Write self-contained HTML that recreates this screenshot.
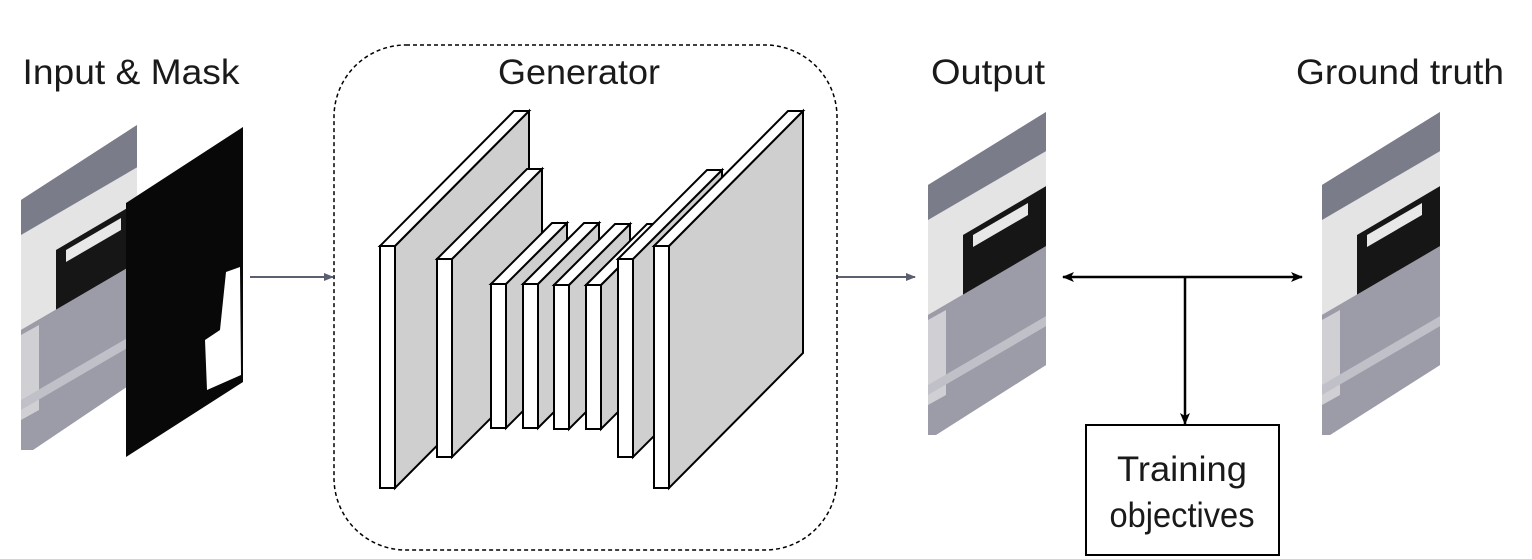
<!DOCTYPE html>
<html><head><meta charset="utf-8"><style>
html,body{margin:0;padding:0;background:#fff;}
svg{display:block;}
text{font-family:"Liberation Sans","DejaVu Sans",sans-serif;font-size:35px;fill:#1a1a1a;}
</style></head><body>
<svg width="1532" height="559" viewBox="0 0 1532 559" xmlns="http://www.w3.org/2000/svg">
<defs>
<marker id="ag" markerWidth="10" markerHeight="10" refX="9" refY="5" orient="auto" markerUnits="userSpaceOnUse"><path d="M0,1 L10,5 L0,9 Z" fill="#5a6070"/></marker>
<marker id="ab" markerWidth="12" markerHeight="12" refX="11" refY="6" orient="auto-start-reverse" markerUnits="userSpaceOnUse"><path d="M0,1 L12,6 L0,11 L3,6 Z" fill="#000"/></marker>
<g id="photo">
  <rect x="0" y="0" width="120" height="340" fill="#8e8e9c"/>
  <rect x="0" y="0" width="120" height="150" fill="#7a7c8a"/>
  <polygon points="0,125 120,55 120,150 0,220" fill="#e4e4e4"/>
  <polygon points="35,140 120,90 120,150 35,200" fill="#161616"/>
  <polygon points="45,140 100,108 100,120 45,152" fill="#e8e8e8"/>
  <polygon points="0,220 120,150 120,340 0,340" fill="#9c9ca8"/>
  <polygon points="0,225 18,215 18,300 0,310" fill="#cfcfd4"/>
  <polygon points="0,290 120,220 120,230 0,300" fill="#c0c0c8"/>
</g>
<clipPath id="c1"><polygon points="21,200 137,125 137,380 21,458"/></clipPath>
<clipPath id="c2"><polygon points="928,185 1046,112 1046,365 928,440"/></clipPath>
<clipPath id="c3"><polygon points="1322,185 1440,112 1440,365 1322,440"/></clipPath>
</defs>

<g clip-path="url(#c1)"><use href="#photo" x="21" y="110"/></g>
<polygon points="126,203 243,127 243,382 126,457" fill="#080808"/>
<path d="M226,272 L240,267 L241,375 L207,390 L205,340 L220,330 Z" fill="#fff"/>

<g clip-path="url(#c2)"><use href="#photo" x="928" y="95"/></g>
<g clip-path="url(#c3)"><use href="#photo" x="1322" y="95"/></g>

<rect x="334" y="45" width="503" height="505" rx="72" ry="72" fill="none" stroke="#000" stroke-width="1.5" stroke-dasharray="4,3"/>

<g stroke="#000" stroke-width="2" stroke-linejoin="miter">
  <polygon points="395,246 529,111 529,353 395,488" fill="#cfcfcf"/>
  <polygon points="380,246 514,111 529,111 395,246" fill="#fff"/>
  <rect x="380" y="246" width="15" height="242" fill="#fff"/>

  <polygon points="452,259 542,169 542,367 452,457" fill="#cfcfcf"/>
  <polygon points="437,259 527,169 542,169 452,259" fill="#fff"/>
  <rect x="437" y="259" width="15" height="198" fill="#fff"/>

  <polygon points="506,284 567,223 567,367 506,428" fill="#cfcfcf"/>
  <polygon points="491,284 552,223 567,223 506,284" fill="#fff"/>
  <rect x="491" y="284" width="15" height="144" fill="#fff"/>

  <polygon points="538,284 599,223 599,367 538,428" fill="#cfcfcf"/>
  <polygon points="523,284 584,223 599,223 538,284" fill="#fff"/>
  <rect x="523" y="284" width="15" height="144" fill="#fff"/>

  <polygon points="569,285 630,224 630,368 569,429" fill="#cfcfcf"/>
  <polygon points="554,285 615,224 630,224 569,285" fill="#fff"/>
  <rect x="554" y="285" width="15" height="144" fill="#fff"/>

  <polygon points="601,285 662,224 662,368 601,429" fill="#cfcfcf"/>
  <polygon points="586,285 647,224 662,224 601,285" fill="#fff"/>
  <rect x="586" y="285" width="15" height="144" fill="#fff"/>

  <polygon points="633,259 722,170 722,368 633,457" fill="#cfcfcf"/>
  <polygon points="618,259 707,170 722,170 633,259" fill="#fff"/>
  <rect x="618" y="259" width="15" height="198" fill="#fff"/>

  <polygon points="669,246 803,111 803,353 669,488" fill="#cfcfcf"/>
  <polygon points="654,246 788,111 803,111 669,246" fill="#fff"/>
  <rect x="654" y="246" width="15" height="242" fill="#fff"/>
</g>

<line x1="250" y1="277" x2="333" y2="277" stroke="#5a6070" stroke-width="2" marker-end="url(#ag)"/>
<line x1="838" y1="277" x2="915" y2="277" stroke="#5a6070" stroke-width="2" marker-end="url(#ag)"/>
<line x1="1063" y1="277" x2="1302" y2="277" stroke="#000" stroke-width="2.5" marker-start="url(#ab)" marker-end="url(#ab)"/>
<line x1="1185" y1="277" x2="1185" y2="424" stroke="#000" stroke-width="2.5" marker-end="url(#ab)"/>

<rect x="1086" y="425" width="193" height="130" fill="#fff" stroke="#000" stroke-width="2"/>

<text x="131" y="84" text-anchor="middle" textLength="217" lengthAdjust="spacingAndGlyphs">Input &amp; Mask</text>
<text x="579" y="84" text-anchor="middle" textLength="162" lengthAdjust="spacingAndGlyphs">Generator</text>
<text x="988" y="84" text-anchor="middle" textLength="114" lengthAdjust="spacingAndGlyphs">Output</text>
<text x="1400" y="84" text-anchor="middle" textLength="208" lengthAdjust="spacingAndGlyphs">Ground truth</text>
<text x="1182" y="481" text-anchor="middle" textLength="130" lengthAdjust="spacingAndGlyphs">Training</text>
<text x="1182" y="527" text-anchor="middle" textLength="145" lengthAdjust="spacingAndGlyphs">objectives</text>
</svg>
</body></html>
